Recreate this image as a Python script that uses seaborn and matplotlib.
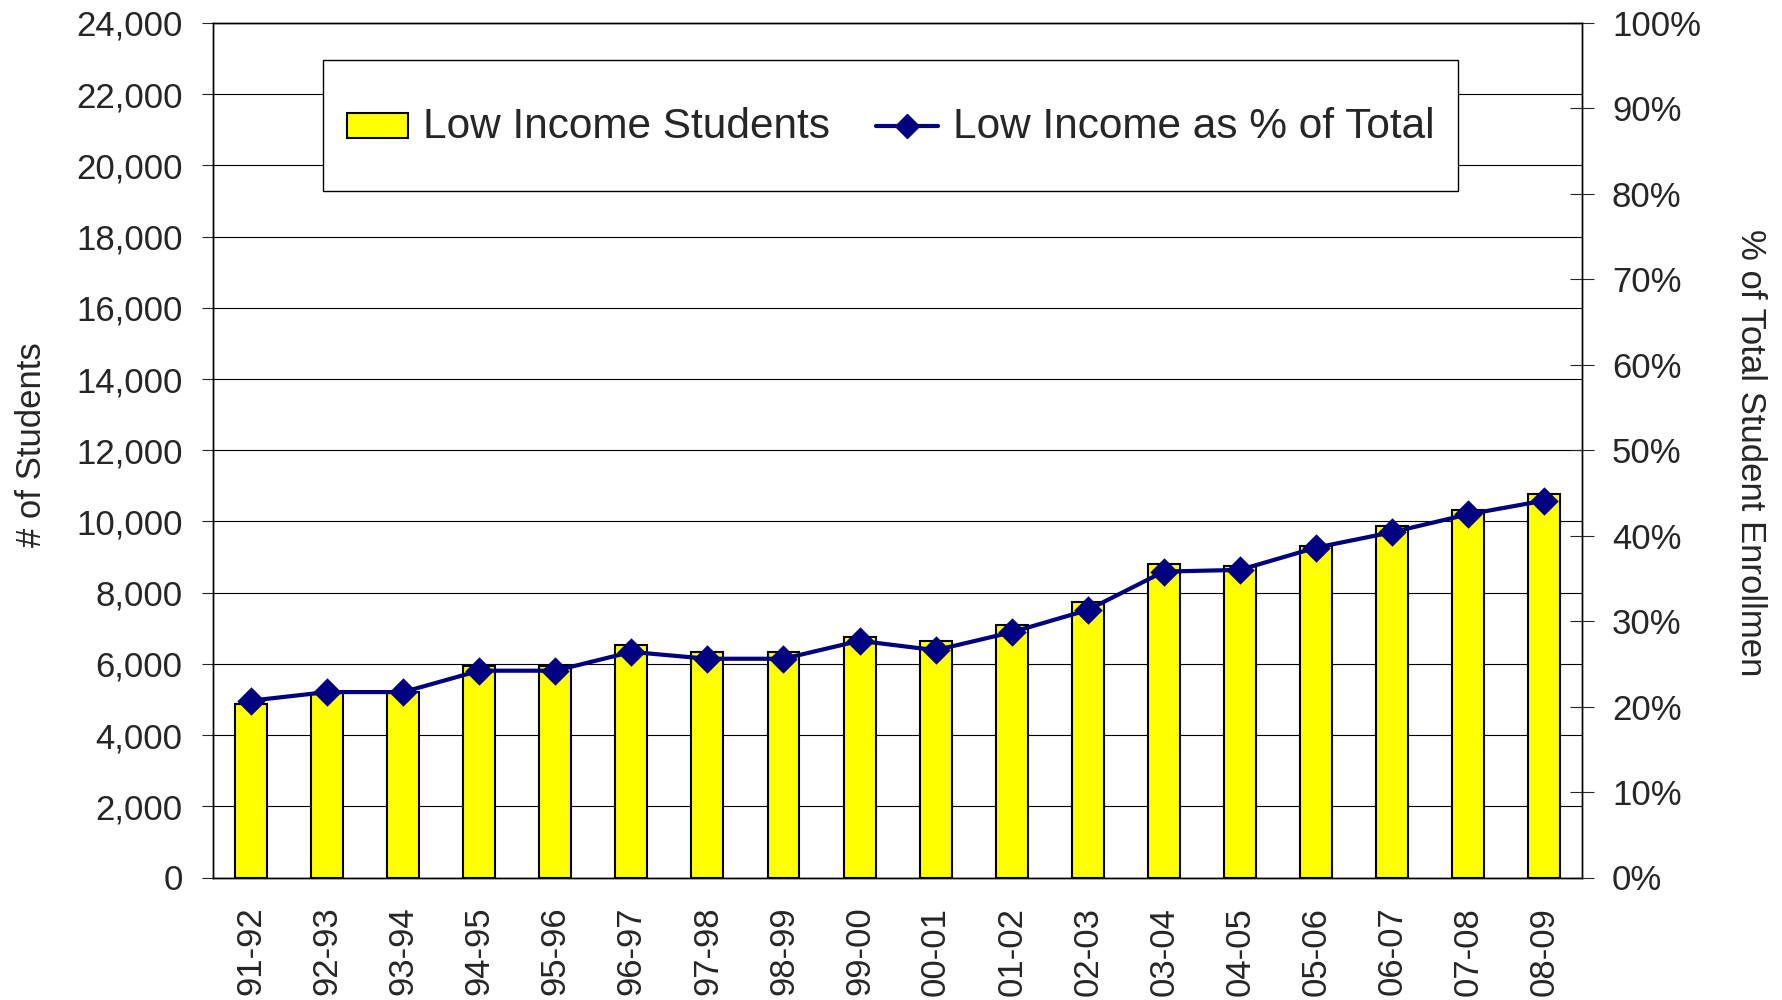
import matplotlib
matplotlib.use("Agg")
import matplotlib.pyplot as plt
import numpy as np
import pandas as pd
import seaborn as sns
from matplotlib.legend_handler import HandlerLine2D, HandlerPatch
from matplotlib.lines import Line2D
from matplotlib.patches import Patch, Rectangle
from matplotlib.ticker import FuncFormatter, MultipleLocator

sns.set_style("white")
plt.rcParams["font.family"] = ["Liberation Sans", "DejaVu Sans"]

# school years
years = ["91-92", "92-93", "93-94", "94-95", "95-96", "96-97", "97-98", "98-99", "99-00",
         "00-01", "01-02", "02-03", "03-04", "04-05", "05-06", "06-07", "07-08", "08-09"]
# number of low income students
low_income = [4880, 5180, 5220, 5950, 5950, 6520, 6330, 6320, 6760,
              6630, 7080, 7750, 8810, 8750, 9320, 9880, 10320, 10760]
# low income as % of total enrollment
pct_of_total = [20.7, 21.7, 21.7, 24.2, 24.2, 26.4, 25.6, 25.6, 27.7,
                26.6, 28.7, 31.3, 35.8, 36.0, 38.6, 40.4, 42.5, 44.1]

df = pd.DataFrame({"year": years, "students": low_income, "pct": pct_of_total})

BAR_YELLOW = "#FFFF00"
LINE_NAVY = "#000080"
FS = 25
LEG_FS = 30.5


def flat_rect(legend, orig_handle, xdescent, ydescent, width, height, fontsize):
    # keep the yellow swatch flat and centred although the handle box is tall
    h = 0.6 * fontsize
    return Rectangle((-xdescent, height / 2 - ydescent - h / 2), width, h)


class CenteredLine(HandlerLine2D):
    """Line handle drawn at the middle of the (tall) handle box."""

    def create_artists(self, legend, orig_handle, xdescent, ydescent, width, height,
                       fontsize, trans):
        artists = super().create_artists(legend, orig_handle, xdescent, ydescent,
                                         width, height, fontsize, trans)
        for a in artists:
            a.set_ydata(np.full_like(a.get_xdata(), height / 2 - ydescent))
        return artists


fig = plt.figure(figsize=(17.83, 10), dpi=100)
ax = fig.add_axes([0.1195, 0.1225, 0.7678, 0.8545])

sns.barplot(data=df, x="year", y="students", color=BAR_YELLOW, saturation=1,
            width=0.42, edgecolor="black", linewidth=1.5, ax=ax)

ax2 = ax.twinx()
sns.pointplot(data=df, x="year", y="pct", color=LINE_NAVY, markers="D",
              markersize=12, linewidth=3, errorbar=None, ax=ax2)

n = len(years)
ax.set_xlim(-0.5, n - 0.5)

# left axis: number of students
ax.set_ylim(0, 24000)
ax.yaxis.set_major_locator(MultipleLocator(2000))
ax.yaxis.set_major_formatter(FuncFormatter(lambda v, _: f"{v:,.0f}"))
ax.grid(axis="y", color="black", linewidth=0.8)
ax.set_axisbelow(True)
ax.tick_params(axis="y", direction="out", length=8, width=0.8, pad=14, labelsize=FS)

# right axis: percent
ax2.set_ylim(0, 100)
ax2.yaxis.set_major_locator(MultipleLocator(10))
ax2.yaxis.set_major_formatter(FuncFormatter(lambda v, _: f"{v:.0f}%"))
ax2.tick_params(axis="y", direction="inout", length=17, width=0.8, pad=13, labelsize=FS)

# x ticks: labels at the centres, tick marks between the bars
ax.set_xticks(range(n))
ax.set_xticklabels(years, rotation=90, va="top", ha="center")
ax.set_xticks(np.arange(-0.5, n), minor=True)
ax.tick_params(axis="x", which="major", length=0, pad=21, labelsize=FS)
ax.tick_params(axis="x", which="minor", direction="inout", length=15, width=0.8)

for a in (ax, ax2):
    a.set_xlabel("")
    a.set_ylabel("")
    for sp in a.spines.values():
        sp.set_color("black")
        sp.set_linewidth(1.0)

fig.text(0.0174, 0.555, "# of Students", rotation=90, ha="center", va="center", fontsize=FS)
fig.text(0.982, 0.547, "% of Total Student Enrollmen", rotation=270, ha="center", va="center",
         fontsize=FS)

handles = [
    Patch(facecolor=BAR_YELLOW, edgecolor="black", linewidth=1.5),
    Line2D([], [], color=LINE_NAVY, marker="D", markersize=12, linewidth=3),
]
labels = ["Low Income Students", "Low Income as % of Total"]
leg = ax2.legend(handles, labels, loc="center", bbox_to_anchor=(0.4994, 0.8744),
                 bbox_transform=fig.transFigure, ncol=2, fontsize=LEG_FS, frameon=True,
                 fancybox=False, framealpha=1, edgecolor="black", borderpad=0.55,
                 handlelength=1.45, handleheight=2.7, handletextpad=0.35,
                 columnspacing=1.1,
                 handler_map={Patch: HandlerPatch(patch_func=flat_rect),
                              Line2D: CenteredLine()})
leg.get_frame().set_linewidth(1.0)

fig.savefig("out.png", dpi=100)
